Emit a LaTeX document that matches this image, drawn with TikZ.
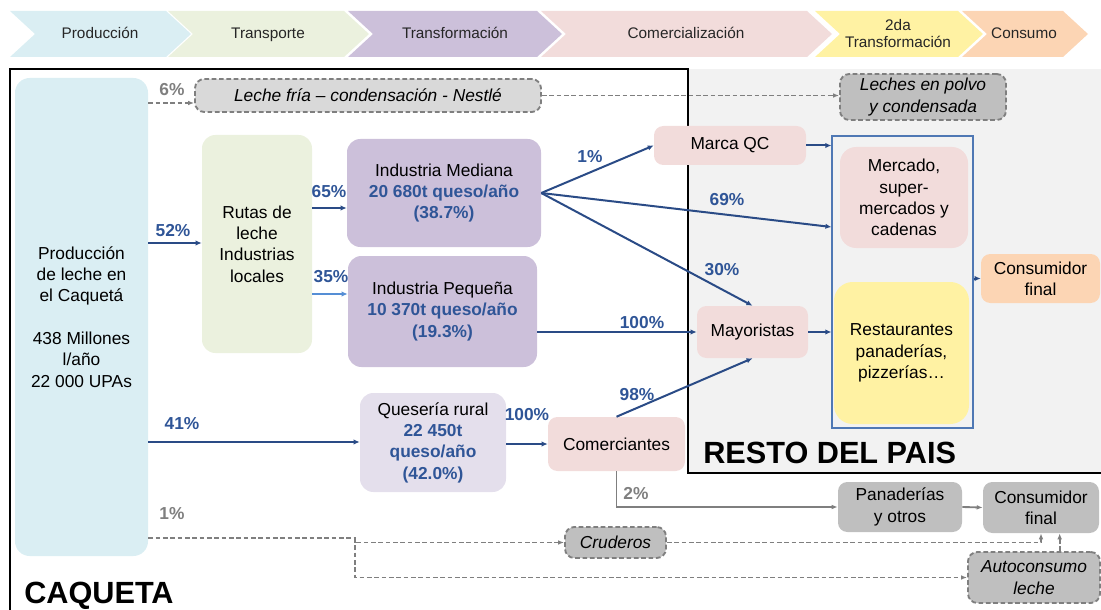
\documentclass[tikz,border=0pt]{standalone}
\usepackage{fontspec}
\setmainfont{Liberation Sans}
\usetikzlibrary{arrows.meta}
\definecolor{prodblue}{HTML}{DAEEF3}
\definecolor{transgreen}{HTML}{EBF1DE}
\definecolor{indlila}{HTML}{CCC0DA}
\definecolor{queslila}{HTML}{E4DFEC}
\definecolor{comrosa}{HTML}{F2DCDB}
\definecolor{amarillo}{HTML}{FFF2A3}
\definecolor{naranja}{HTML}{FCD5B4}
\definecolor{grisclaro}{HTML}{D9D9D9}
\definecolor{gris}{HTML}{BFBFBF}
\definecolor{grisborde}{HTML}{7F7F7F}
\definecolor{fondo}{HTML}{F2F2F2}
\definecolor{azul}{HTML}{2F5597}
\definecolor{flecha}{HTML}{2A4B86}
\definecolor{azulclaro}{HTML}{558ED5}
\definecolor{marco}{HTML}{4F78B4}
\tikzset{
  sz/.style 2 args={minimum width=#1*0.75pt, minimum height=#2*0.75pt},
  box/.style={rounded corners=7pt, align=center, inner sep=0pt, font=\fontsize{13}{16}\selectfont},
  dbox/.style={box, fill=gris, draw=grisborde, dash pattern=on 3.5pt off 2pt, line width=1.4pt, font=\fontsize{13}{16}\selectfont\itshape},
  pct/.style={font=\fontsize{13}{16}\selectfont\bfseries, text=azul, inner sep=0pt},
  gpct/.style={pct, text=grisborde},
  flow/.style={draw=flecha, line width=1.5pt, -{Latex[length=4.5pt,width=4pt]}},
  gflow/.style={draw=grisborde, line width=1.4pt, -{Latex[length=4.5pt,width=3.5pt]}},
  dflow/.style={gflow, dash pattern=on 3.5pt off 2pt},
}
\begin{document}
\begin{tikzpicture}[x=0.75pt,y=-0.75pt]
\useasboundingbox (0,0) rectangle (1101,610);
\foreach \xa/\xb/\xt/\col/\txt in {10/166/100/prodblue/Producción, 168/344/268/transgreen/Transporte, 348/537/455/indlila/Transformación, 541/807/686/comrosa/Comercialización, 815/958/898/amarillo/{2da\\Transformación}, 962/1063/1024/naranja/Consumo}
{
  \fill[\col] (\xa,11) -- (\xb,11) -- (\xb+25,34) -- (\xb,57) -- (\xa,57) -- (\xa+25,34) -- cycle;
  \node[font=\fontsize{11.5}{12.5}\selectfont, align=center, text=black!85, text depth=0.25ex] (h\xa) at (\xt,34) {\txt};
}
\fill[fondo] (688,69) rectangle (1101,473);
\draw[line width=2.2pt] (10,610) -- (10,69) -- (688,69) -- (688,473) -- (1101,473);
\node[font=\fontsize{23}{26}\selectfont\bfseries, anchor=base west, inner sep=0pt] (caq) at (24,603) {CAQUETA};
\node[font=\fontsize{23}{26}\selectfont\bfseries, anchor=base west, inner sep=0pt] (resto) at (703,463) {RESTO DEL PAIS};

\node[box, sz={133}{478}, fill=prodblue, rounded corners=11pt] (prod) at (81.5,317) {Producción\\de leche en\\el Caquetá\\[16pt]438 Millones\\l/año\\22 000 UPAs};
\node[dbox, fill=grisclaro, sz={346}{33}] (lf) at (368,95.5) {Leche fría – condensación - Nestlé};
\node[dbox, sz={166}{46}] (lp) at (923,97) {Leches en polvo\\y condensada};
\node[box, sz={110}{218}, fill=transgreen, rounded corners=10pt] (rutas) at (257,244) {Rutas de\\leche\\Industrias\\locales};
\node[box, sz={194}{108}, fill=indlila, rounded corners=10pt] (im) at (444,193) {Industria Mediana\\\textcolor{azul}{\bfseries 20 680t queso/año}\\\textcolor{azul}{\bfseries (38.7\%)}};
\node[box, sz={189}{111}, fill=indlila, rounded corners=10pt] (ip) at (442.5,311.5) {Industria Pequeña\\\textcolor{azul}{\bfseries 10 370t queso/año}\\\textcolor{azul}{\bfseries (19.3\%)}};
\node[box, sz={146}{99}, fill=queslila, rounded corners=10pt] (qr) at (433,442.5) {Quesería rural\\\textcolor{azul}{\bfseries 22 450t}\\\textcolor{azul}{\bfseries queso/año}\\\textcolor{azul}{\bfseries (42.0\%)}};
\node[box, sz={137}{54}, fill=comrosa] (com) at (616.5,444) {Comerciantes};
\node[box, sz={152}{39}, fill=comrosa] (mqc) at (730,145.5) {Marca QC};
\node[box, sz={111}{52}, fill=comrosa] (may) at (752.5,332) {Mayoristas};
\node[draw=marco, line width=0.8pt, sz={141}{292}, inner sep=0pt] (marco) at (902.5,282) {};
\node[box, sz={128}{101}, fill=comrosa, rounded corners=12pt] (merc) at (904,197.5) {Mercado,\\super-\\mercados y\\cadenas};
\node[box, sz={135}{142}, fill=amarillo, rounded corners=14pt] (rest) at (901.5,353) {Restaurantes\\panaderías,\\pizzerías…};
\node[box, sz={119}{49}, fill=naranja] (cf) at (1040.5,278.5) {Consumidor\\final};
\node[box, sz={124}{50}, fill=gris] (pan) at (900,507) {Panaderías\\y otros};
\node[box, sz={116}{51}, fill=gris] (cf2) at (1041,507.5) {Consumidor\\final};
\node[dbox, sz={101}{31}] (cru) at (615.5,542.5) {Cruderos};
\node[dbox, sz={132}{51}] (autoc) at (1034,577.5) {Autoconsumo\\leche};

\node[gpct] (p6) at (172,90) {6\%};
\node[pct] (p52) at (173,231) {52\%};
\node[pct] (p65) at (329,192) {65\%};
\node[pct] (p35) at (331,277) {35\%};
\node[pct] (p41) at (182,424) {41\%};
\node[gpct] (p1g) at (172,514) {1\%};
\node[pct] (p100q) at (527,415) {100\%};
\node[pct] (p1) at (590,157) {1\%};
\node[pct] (p69) at (727,200) {69\%};
\node[pct] (p30) at (722,270) {30\%};
\node[pct] (p100i) at (642,323) {100\%};
\node[pct] (p98) at (637,395) {98\%};
\node[gpct] (p2) at (636,494) {2\%};

\draw[dflow] (prod.east |- 0,103) -- (lf.west |- 0,103);
\draw[dflow] (lf.east) -- (lf.east -| lp.west);
\draw[flow, line width=2.2pt] (prod.east |- 0,243) -- (rutas.west |- 0,243);
\draw[flow] (rutas.east |- 0,208) -- (im.west |- 0,208);
\draw[flow, draw=azulclaro, line width=1.2pt] (rutas.east |- 0,294) -- (ip.west |- 0,294);
\draw[flow, line width=2.2pt] (prod.east |- 0,442) -- (qr.west |- 0,442);
\draw[flow] (qr.east |- com.west) -- (com.west);
\draw[flow] (im.east) -- (mqc.west);
\draw[flow] (im.east) -- (marco.west |- 0,227);
\draw[flow] (im.east) -- (may.north);
\draw[flow] (ip.east |- may.west) -- (may.west);
\draw[flow] (com.north) -- (may.south);
\draw[flow] (mqc.east) -- (mqc.east -| marco.west);
\draw[flow] (may.east) -- (may.east -| marco.west);
\draw[flow] (cf.west -| marco.east) -- (cf.west);
\draw[gflow] (com.south) |- (pan.west);
\draw[gflow] (pan.east) -- (cf2.west);
\coordinate (split) at (355,538);
\coordinate (cfa) at ([xshift=14pt]cf2.south);
\draw[dflow] (prod.east |- split) -- (split) |- (cru.west);
\draw[dflow] (split) |- (autoc.west);
\draw[dflow] (cru.east) -| (cf2.south);
\draw[dflow] (autoc.north -| cfa) -- (cfa);
\end{tikzpicture}
\end{document}
